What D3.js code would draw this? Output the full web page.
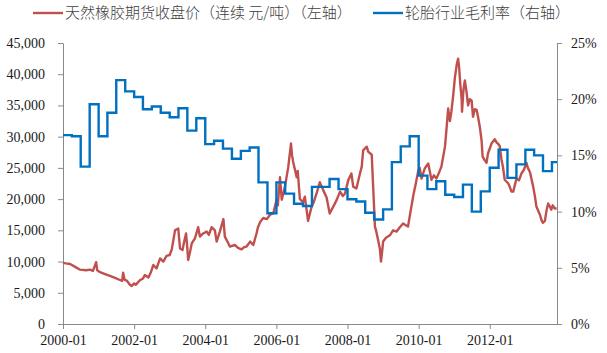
<!DOCTYPE html>
<html>
<head>
<meta charset="utf-8">
<script src="https://cdn.jsdelivr.net/npm/d3@7"></script>
<style>
  body{margin:0;background:#fff}
  svg{display:block}
  .tick text{font-family:"Liberation Serif","Times New Roman",serif;font-size:14px;fill:#1a1a1a}
  .legend text{font-family:"Noto Sans CJK SC",sans-serif;font-size:15px;font-weight:300;fill:#404040}
</style>
</head>
<body>
<svg id="chart"></svg>
<script>
/* données lues sur le graphique */
// cours de clôture du caoutchouc naturel (année décimale, yuan/tonne)
const rubber = [
  [2000.00,9800],[2000.08,9700],[2000.20,9600],[2000.34,9150],[2000.48,8700],[2000.65,8600],
  [2000.76,8700],[2000.84,8500],[2000.93,9900],[2000.96,8600],[2001.04,8300],[2001.18,8000],
  [2001.32,7700],[2001.46,7400],[2001.60,7050],[2001.66,6900],[2001.69,8200],[2001.73,7100],
  [2001.80,6900],[2001.88,6300],[2001.93,6100],[2002.00,6500],[2002.05,6300],[2002.16,7000],
  [2002.25,7300],[2002.30,7850],[2002.40,7450],[2002.47,8300],[2002.54,9450],[2002.63,8900],
  [2002.73,10500],[2002.82,10000],[2002.91,10900],[2003.00,11050],[2003.06,12000],[2003.15,15000],
  [2003.24,15300],[2003.26,14000],[2003.29,12100],[2003.36,11850],[2003.40,13000],[2003.46,14500],
  [2003.49,12500],[2003.52,10250],[2003.57,11500],[2003.62,12900],[2003.71,13700],[2003.80,15500],
  [2003.85,14000],[2003.94,14500],[2004.04,14800],[2004.10,14300],[2004.18,15500],[2004.27,15000],
  [2004.32,13200],[2004.41,14800],[2004.51,16800],[2004.55,14000],[2004.64,13000],[2004.69,12400],
  [2004.83,12650],[2004.92,12200],[2005.02,11950],[2005.09,12300],[2005.16,12400],[2005.26,13200],
  [2005.35,12650],[2005.44,14500],[2005.48,15500],[2005.54,16300],[2005.63,17000],[2005.73,16800],
  [2005.82,17500],[2005.91,17700],[2006.01,20000],[2006.04,19000],[2006.10,23500],[2006.15,19900],
  [2006.24,22000],[2006.33,25000],[2006.41,28900],[2006.44,27000],[2006.47,26000],[2006.57,23500],
  [2006.60,24500],[2006.66,20000],[2006.75,19500],[2006.80,20400],[2006.89,16500],[2006.99,18800],
  [2007.05,19500],[2007.13,20900],[2007.22,22700],[2007.32,21400],[2007.41,20300],[2007.50,17700],
  [2007.60,18800],[2007.69,19800],[2007.79,21200],[2007.87,20500],[2007.93,20900],[2008.02,23000],
  [2008.11,24100],[2008.16,22000],[2008.25,21700],[2008.35,24100],[2008.40,25200],[2008.44,27800],
  [2008.49,28100],[2008.54,28400],[2008.58,27600],[2008.68,27100],[2008.72,22000],[2008.77,15600],
  [2008.80,15000],[2008.86,13400],[2008.91,12000],[2008.94,10000],[2008.97,11500],[2009.00,13200],
  [2009.08,13800],[2009.19,14200],[2009.28,15000],[2009.38,14800],[2009.47,15500],[2009.56,16100],
  [2009.64,15800],[2009.70,15600],[2009.75,17300],[2009.85,20600],[2009.92,22500],[2009.99,24600],
  [2010.03,25000],[2010.08,23300],[2010.12,24000],[2010.17,24900],[2010.27,25700],[2010.36,23100],
  [2010.43,23800],[2010.50,23300],[2010.57,24200],[2010.64,25200],[2010.74,28400],[2010.78,31000],
  [2010.83,34500],[2010.88,32500],[2010.92,34000],[2010.97,36500],[2011.02,39500],[2011.07,41500],
  [2011.11,42500],[2011.14,41000],[2011.17,38500],[2011.21,36000],[2011.22,34000],[2011.26,37500],
  [2011.30,39000],[2011.35,37000],[2011.39,35000],[2011.44,36000],[2011.49,35800],[2011.53,33200],
  [2011.58,34400],[2011.63,34300],[2011.67,33200],[2011.72,31600],[2011.77,29400],[2011.80,26800],
  [2011.86,26200],[2011.91,25800],[2011.95,27300],[2012.05,28900],[2012.14,29600],[2012.20,29000],
  [2012.23,28900],[2012.28,28500],[2012.33,26300],[2012.37,25200],[2012.42,23100],[2012.52,22500],
  [2012.56,22000],[2012.61,21200],[2012.66,21200],[2012.75,23300],[2012.82,23000],[2012.89,24100],
  [2012.96,24700],[2013.03,25800],[2013.07,25000],[2013.13,24300],[2013.22,22000],[2013.27,20400],
  [2013.31,18800],[2013.41,17500],[2013.45,16700],[2013.49,16200],[2013.55,16500],[2013.59,18000],
  [2013.64,19300],[2013.69,18800],[2013.73,18300],[2013.77,19000],[2013.83,18500],[2013.88,18500]
]

// marge brute du secteur des pneus, trimestrielle à partir de 2000T1 (%)
const marginStart = '2000-01'
const marginValues = [
  16.8,16.7,14.0,19.55, 16.7,18.8,21.7,20.7, 20.2,19.1,19.35,18.8, 18.4,19.2,17.2,18.3,
  16.0,16.3,15.6,14.7, 15.4,15.7,12.6,9.85, 12.6,11.6,10.7,10.5, 12.2,12.2,12.9,12.0,
  11.1,10.9,9.9,9.3, 10.2,14.4,15.8,16.7, 13.2,12.0,12.7,11.5, 11.3,12.4,10.0,11.8,
  13.9,15.5,13.0,14.2, 15.5,15.0,13.6,14.4
]

const endYear = 2013.89
const leftTicks = [0,5000,10000,15000,20000,25000,30000,35000,40000,45000]
const rightTicks = [0,5,10,15,20,25]
const legendLabels = ['天然橡胶期货收盘价（连续 元/吨）（左轴）','轮胎行业毛利率（右轴）']
const colors = ['#C0504D','#0070C0']

const width=607, height=353
const margin={top:43, right:50, bottom:29, left:63}

const svg = d3.select('#chart').attr('width',width).attr('height',height)

// année décimale -> Date
const toDate = t => {
  const y=Math.floor(t), s=new Date(y,0,1), e=new Date(y+1,0,1)
  return new Date(+s+(t-y)*(e-s))
}

const xScale = d3.scaleTime()
  .domain([new Date(2000,0,1), toDate(endYear)])
  .range([margin.left, width-margin.right])
const yLeft = d3.scaleLinear().domain([0,45000]).range([height-margin.bottom, margin.top])
const yRight = d3.scaleLinear().domain([0,25]).range([height-margin.bottom, margin.top])

/* axes */
const axisColor='#898989'
const styleAxis = g => {
  g.select('.domain').attr('stroke',axisColor)
  g.selectAll('.tick line').attr('stroke',axisColor)
}

svg.append('g')
  .attr('transform','translate(0,'+(height-margin.bottom)+')')
  .call(d3.axisBottom(xScale)
    .tickValues(d3.timeYear.every(2).range(new Date(2000,0,1), new Date(2013,0,2)))
    .tickFormat(d3.timeFormat('%Y-%m'))
    .tickSize(5).tickSizeOuter(0).tickPadding(6))
  .call(styleAxis)

svg.append('g')
  .attr('transform','translate('+margin.left+',0)')
  .call(d3.axisLeft(yLeft).tickValues(leftTicks).tickFormat(d3.format(','))
    .tickSize(5).tickSizeOuter(0).tickPadding(13))
  .call(styleAxis)

svg.append('g')
  .attr('transform','translate('+(width-margin.right)+',0)')
  .call(d3.axisRight(yRight).tickValues(rightTicks).tickFormat(d => d+'%')
    .tickSize(5).tickSizeOuter(0).tickPadding(9))
  .call(styleAxis)

/* séries */
const rubberLine = d3.line()
  .x(d => xScale(toDate(d[0])))
  .y(d => yLeft(d[1]))

svg.append('path')
  .datum(rubber)
  .attr('d',rubberLine)
  .attr('fill','none')
  .attr('stroke',colors[0])
  .attr('stroke-width',2.4)
  .attr('stroke-linejoin','round')

const q0 = d3.timeParse('%Y-%m')(marginStart)
const marginData = marginValues.map((v,i) => ({date:d3.timeMonth.offset(q0,3*i), value:v}))
marginData.push({date:toDate(endYear), value:marginValues[marginValues.length-1]})

const marginLine = d3.line()
  .curve(d3.curveStepAfter)
  .x(d => xScale(d.date))
  .y(d => yRight(d.value))

svg.append('path')
  .datum(marginData)
  .attr('d',marginLine)
  .attr('fill','none')
  .attr('stroke',colors[1])
  .attr('stroke-width',2.4)

/* légende */
const legend = svg.append('g').attr('class','legend')
const legendX=[33,373]
legendLabels.forEach((label,i) => {
  legend.append('line')
    .attr('x1',legendX[i]).attr('x2',legendX[i]+30)
    .attr('y1',13).attr('y2',13)
    .attr('stroke',colors[i]).attr('stroke-width',2.4)
  legend.append('text')
    .attr('x',legendX[i]+32).attr('y',13)
    .attr('dy','0.35em')
    .text(label)
})
</script>
</body>
</html>
